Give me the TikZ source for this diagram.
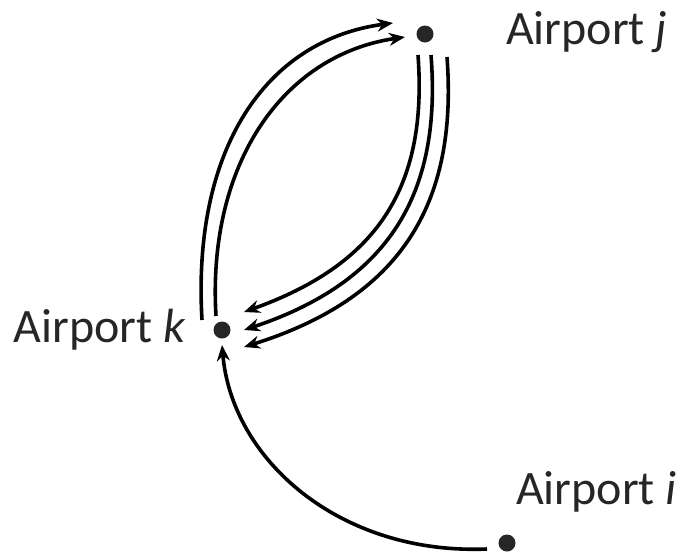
\documentclass[tikz,border=0pt]{standalone}
\usepackage{fontspec}
\setmainfont{Carlito}
\usetikzlibrary{arrows.meta}
\begin{document}
\begin{tikzpicture}[x=1pt,y=-1pt,line width=3.6pt,
    every node/.style={font=\fontsize{48}{58}\selectfont,text=black!85},
    airport/.style={circle,fill=black!85,inner sep=0pt,minimum size=17pt},
    flight/.style={-{Stealth[length=16pt,width=13pt]}}]
    \useasboundingbox (0,0) rectangle (683,555);
    \node[airport] (j) at (425,34) {};
    \node[airport] (k) at (222,330) {};
    \node[airport] (i) at (507,543) {};
    \node[anchor=west] (jlab) at (501,32) {Airport \textit{j}};
    \node[anchor=east] (klab) at (191,330) {Airport \textit{k}};
    \node[anchor=west] (ilab) at (511,492) {Airport \textit{i}};
    % k to j
    \draw[flight] ([shift={(-20,-10)}]k.center) .. controls (192,150) and (265,40) .. ([shift={(-32,-11)}]j.center);
    \draw[flight] ([shift={(-6,-14)}]k.center) .. controls (207,165) and (282,55) .. ([shift={(-20,3)}]j.center);
    % j to k
    \draw[flight] ([shift={(-7,21)}]j.center) .. controls (428,190) and (375,265) .. ([shift={(22,-18)}]k.center);
    \draw[flight] ([shift={(6,21)}]j.center) .. controls (442,195) and (388,282) .. ([shift={(22,0)}]k.center);
    \draw[flight] ([shift={(22,23)}]j.center) .. controls (458,205) and (400,298) .. ([shift={(22,17)}]k.center);
    % i to k
    \draw[flight] ([shift={(-20,6)}]i.center) .. controls (340,555) and (232,460) .. ([shift={(0,15)}]k.center);
\end{tikzpicture}
\end{document}
